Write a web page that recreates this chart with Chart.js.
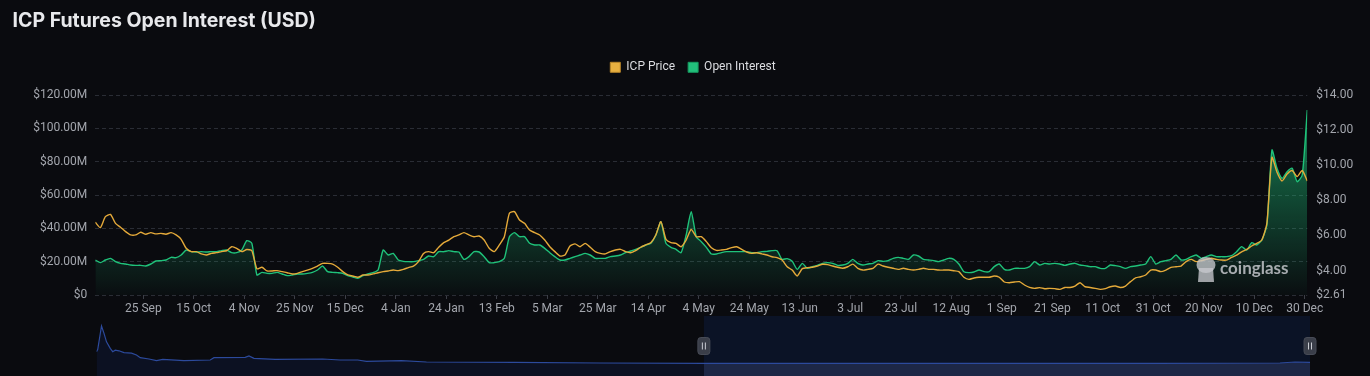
<!DOCTYPE html>
<html><head><meta charset="utf-8">
<script src="https://cdn.jsdelivr.net/npm/chart.js@4.4.1/dist/chart.umd.min.js"></script>
<style>
html,body{margin:0;padding:0;background:#0a0b0f;overflow:hidden;}
#wrap{position:relative;width:1370px;height:376px;background:#0a0b0f;}
#main{position:absolute;left:0;top:0;}
#nav{position:absolute;left:0;top:316px;}
</style></head><body>
<div id="wrap">
<canvas id="main" width="1370" height="316" style="width:1370px;height:316px"></canvas>
<canvas id="nav" width="1370" height="60" style="width:1370px;height:60px"></canvas>
</div>
<script>
// ---- data (one value every 2 days, day 0 = 6 Sep 2022) ----
const priceSeries = [
6.75,6.45,7.07,7.20,6.69,6.47,6.22,6.03,6.03,6.18,
6.07,6.16,6.09,6.12,6.07,6.16,6.03,5.78,5.27,5.08,
5.08,4.95,4.89,4.98,5.02,5.08,5.13,5.36,5.27,5.08,
5.20,5.13,4.10,4.19,3.98,3.98,4.00,3.94,3.88,3.81,
3.84,3.94,4.03,4.13,4.26,4.41,4.41,4.37,4.19,3.94,
3.75,3.69,3.62,3.75,3.75,3.81,3.88,3.94,3.98,4.03,
4.00,4.07,4.17,4.26,4.51,4.98,5.08,5.02,5.33,5.59,
5.74,5.93,6.03,6.16,6.03,5.93,5.97,5.74,5.27,5.08,
5.46,5.93,7.26,7.36,6.88,6.69,6.31,6.16,6.03,5.74,
5.36,5.08,4.83,4.89,5.40,5.52,5.36,5.55,5.33,5.08,
4.98,4.95,5.08,5.17,5.21,5.08,5.02,5.14,5.33,5.46,
5.59,6.03,6.79,5.78,5.59,5.55,5.36,5.74,6.35,5.93,
5.93,5.65,5.30,5.15,5.17,5.21,5.31,5.36,5.21,5.06,
4.98,5.02,4.95,4.89,4.79,4.74,4.60,4.22,4.03,3.69,
4.11,4.17,4.19,4.26,4.36,4.34,4.26,4.19,4.13,4.22,
4.37,4.13,4.03,4.07,4.13,4.37,4.26,4.19,4.13,4.07,
4.13,4.07,4.03,4.07,4.13,4.07,4.07,4.03,4.03,4.03,
3.99,3.94,3.62,3.50,3.58,3.62,3.62,3.62,3.69,3.62,
3.35,3.31,3.35,3.37,3.18,3.04,2.99,3.03,2.97,2.99,
2.97,2.93,3.04,3.04,3.12,3.31,3.08,3.04,2.99,2.93,
2.97,3.08,3.12,3.04,3.12,3.37,3.59,3.65,3.75,4.03,
4.03,3.94,4.03,4.18,4.22,4.26,4.51,4.64,4.51,4.56,
4.64,4.70,4.64,4.60,4.60,4.75,4.88,5.07,5.21,5.40,
5.55,5.74,6.70,10.45,9.60,9.10,9.50,9.70,9.35,9.70,
9.10
];
const openInterestM = [
21,19.4,21,22,20,19,18.6,18,17.8,17.8,
17.4,18.6,20.4,20.6,21,22.6,22.4,24,27,26,
25.8,26,25.8,26,26,26.6,27,25.4,25.4,27,
32.6,31,12,13.6,13,13,13.6,12.6,11.6,12,
12.6,12.6,13,13.6,15,17.4,14,13.6,13.4,13,
11.6,10.8,10,11.6,12.6,13.4,15,27,24,25,
21,20.2,20,20,20.6,21.4,23.4,23,26,26,
26.6,26,25.8,21.4,23,26,25.8,23,19.4,19.4,
20,22,35,37.4,35,35,31,30,30,28,
25.4,23,21,21,22,23,24,25,24,22,
22,22,23,23.4,24,25.4,26.4,27.4,28.6,30,
31,36,44,31,28.6,27.4,25.4,36,50,35,
32,28.6,24.6,24.6,25.4,26,26,26,26,26,
25.4,25.4,26,26.2,26.6,26.6,21.4,21.8,20.2,15.4,
19,16,17,17.8,19,19.4,19,17.8,18,19,
21.4,19,18,18.6,19,20.6,20.2,20.6,22,22.6,
22,21.4,24,23.4,21.4,21,20.6,20,21,22,
21.4,18.6,14,13.4,13.8,15,14,14,17,18.6,
15.4,15,16,16,16,17,20,18,19,18.6,
19,18.6,17.8,18.6,19,18,17.6,17,17,16,
16,18,17.6,17,16,17,17.4,18,18.6,23,
18.6,20,20.6,21.4,24,21,21.4,23,24,22,
23,24,23,23,23,23.6,26,29,27,31.4,
30,33,42,87,76,70,74,76,68,72,
111
];
const sampleDays = priceSeries.map((_, i) => i * 2);

const tickDays = [19,39,59,79,99,119,139,159,179,199,219,239,259,279,299,319,339,359,379,399,419,439,459,479];
const tickLabels = ['25 Sep','15 Oct','4 Nov','25 Nov','15 Dec','4 Jan','24 Jan','13 Feb','5 Mar','25 Mar','14 Apr','4 May','24 May','13 Jun','3 Jul','23 Jul','12 Aug','1 Sep','21 Sep','11 Oct','31 Oct','20 Nov','10 Dec','30 Dec'];
const oiTicks = [0,20,40,60,80,100,120];
const priceTicks = [2.61,4,6,8,10,12,14];

// navigator (full history overview)
const navDays = [0,1,4,6,8,11,13,15,18,22,28,32,35,42,48,53,70,91,94,119,122,126,143,181,195,209,216,244,264,334,403,486,600,722,850,947,959,971];
const navValues = [40.5,44.5,83.3,71,57,46,40.5,43,42,39,38,35,30.5,28.3,25.5,27.8,25.5,26.7,30.5,31,33.3,29.5,27.8,28.3,26.7,26.7,24.5,25.5,23.3,22.8,21.7,21.2,21.2,21.2,21.2,21.7,23.3,22.8];
const navSelection = [486, 971];

// ---- styles ----
const AXIS_COLOR = '#a3a6ad';
const GRID_COLOR = '#2a2d35';
const PRICE_COLOR = '#E5AA3A';
const OI_COLOR = '#1FC27A';
const legendFill = ['#E8B040', '#22C07B'];
const legendStroke = ['#B8862A', '#169A60'];

Chart.defaults.font.family = 'Roboto, "Liberation Sans", sans-serif';

const layoutTweaks = {
  id: 'layoutTweaks',
  beforeLayout(chart) {
    const lg = chart.legend;
    if (lg && !lg._patched) {
      const fit = lg.fit;
      lg.fit = function () { fit.call(this); this.height += 11.7; };
      lg._patched = true;
    }
  },
  afterLayout(chart) {
    if (chart.legend) chart.legend.left += 16;
    if (chart.titleBlock) chart.titleBlock.left += 12.5;
  }
};

const watermark = {
  id: 'watermark',
  afterDatasetsDraw(chart) {
    const c = chart.ctx;
    c.save();
    c.fillStyle = 'rgba(200,201,206,0.78)';
    c.beginPath();
    c.ellipse(1206, 265, 9.5, 8, 0, 0, Math.PI * 2);
    c.fill();
    c.beginPath();
    c.moveTo(1199, 268); c.lineTo(1213, 268); c.lineTo(1214, 282); c.lineTo(1198, 282); c.closePath();
    c.fill();
    c.font = '700 17px Lato, Inter, sans-serif';
    c.textBaseline = 'middle';
    c.textAlign = 'left';
    c.fillStyle = 'rgba(195,197,202,0.85)';
    c.fillText('coinglass', 1220, 268.5);
    c.restore();
  }
};

function oiGradient(ctx) {
  const chart = ctx.chart;
  const area = chart.chartArea;
  if (!area) return 'rgba(31,194,122,0.3)';
  const g = chart.ctx.createLinearGradient(0, area.top, 0, area.bottom);
  g.addColorStop(0, 'rgba(31,194,122,0.85)');
  g.addColorStop(0.45, 'rgba(31,194,122,0.38)');
  g.addColorStop(1, 'rgba(31,194,122,0.02)');
  return g;
}

new Chart(document.getElementById('main'), {
  type: 'line',
  data: {
    datasets: [
      {
        label: 'ICP Price',
        data: sampleDays.map((d, i) => ({ x: d, y: priceSeries[i] })),
        yAxisID: 'yPrice',
        borderColor: PRICE_COLOR,
        backgroundColor: PRICE_COLOR,
        borderWidth: 1.4,
        pointRadius: 0,
        tension: 0.2,
        fill: false
      },
      {
        label: 'Open Interest',
        data: sampleDays.map((d, i) => ({ x: d, y: openInterestM[i] })),
        yAxisID: 'yOI',
        borderColor: OI_COLOR,
        backgroundColor: oiGradient,
        borderWidth: 1.4,
        pointRadius: 0,
        tension: 0.2,
        fill: 'origin'
      }
    ]
  },
  options: {
    responsive: false,
    animation: false,
    devicePixelRatio: 1,
    layout: { padding: 0 },
    plugins: {
      title: {
        display: true,
        text: 'ICP Futures Open Interest (USD)',
        align: 'start',
        color: '#e8e9ec',
        font: { family: 'Inter', weight: '700', size: 19.5 },
        padding: { top: 9.5, bottom: 15.4 }
      },
      legend: {
        display: true,
        labels: {
          color: '#dcdde1',
          font: { size: 12 },
          boxWidth: 10,
          boxHeight: 10,
          padding: 13,
          generateLabels(chart) {
            const items = Chart.defaults.plugins.legend.labels.generateLabels(chart);
            items.forEach((it, i) => { it.fillStyle = legendFill[i]; it.strokeStyle = legendStroke[i]; it.lineWidth = 1; });
            return items;
          }
        }
      },
      tooltip: { enabled: false }
    },
    scales: {
      x: {
        type: 'linear',
        min: 0,
        max: 480,
        afterBuildTicks(s) { s.ticks = tickDays.map(v => ({ value: v })); },
        afterFit(s) { s.height = 21; },
        ticks: {
          autoSkip: false,
          maxRotation: 0,
          color: AXIS_COLOR,
          font: { size: 12 },
          padding: 3,
          callback: (v, i) => tickLabels[i]
        },
        grid: { drawOnChartArea: false, drawTicks: true, tickLength: 4, color: '#3c3f47' },
        border: { display: false }
      },
      yOI: {
        position: 'left',
        min: 0,
        max: 120,
        afterBuildTicks(s) { s.ticks = oiTicks.map(v => ({ value: v })); },
        afterFit(s) { s.width = 95.3; },
        ticks: {
          color: AXIS_COLOR,
          font: { size: 12 },
          padding: 8,
          callback: v => v === 0 ? '$0' : '$' + v.toFixed(2) + 'M'
        },
        grid: { color: GRID_COLOR, drawTicks: false, lineWidth: 1 },
        border: { display: false, dash: [4, 3] }
      },
      yPrice: {
        position: 'right',
        min: 2.61,
        max: 14,
        afterBuildTicks(s) { s.ticks = priceTicks.map(v => ({ value: v })); },
        afterFit(s) { s.width = 62.7; },
        ticks: {
          color: AXIS_COLOR,
          font: { size: 12 },
          padding: 9,
          callback: v => '$' + v.toFixed(2)
        },
        grid: { drawOnChartArea: false, drawTicks: false },
        border: { display: false }
      }
    }
  },
  plugins: [layoutTweaks, watermark]
});

// ---- navigator ----
function navFill(ctx) {
  const chart = ctx.chart;
  const area = chart.chartArea;
  if (!area) return '#0c1121';
  const x = chart.scales.x.getPixelForValue(navSelection[0]);
  const t = Math.min(Math.max((x - area.left) / (area.right - area.left), 0), 1);
  const g = chart.ctx.createLinearGradient(area.left, 0, area.right, 0);
  g.addColorStop(0, '#0c1122');
  g.addColorStop(t, '#0c1122');
  g.addColorStop(Math.min(t + 0.0005, 1), '#1d2746');
  g.addColorStop(1, '#1d2746');
  return g;
}

const navOverlay = {
  id: 'navOverlay',
  beforeDatasetsDraw(chart) {
    const c = chart.ctx;
    const x0 = chart.scales.x.getPixelForValue(navSelection[0]);
    const x1 = chart.scales.x.getPixelForValue(navSelection[1]);
    c.save();
    c.fillStyle = '#0b1326';
    c.fillRect(x0, 0, x1 - x0, chart.height);
    c.restore();
  },
  afterDatasetsDraw(chart) {
    const c = chart.ctx;
    const cy = 30;
    navSelection.forEach(v => {
      const x = chart.scales.x.getPixelForValue(v);
      c.save();
      c.fillStyle = '#3a3e49';
      c.strokeStyle = '#474b56';
      c.lineWidth = 1;
      c.beginPath();
      c.roundRect(x - 6, cy - 8.5, 12, 17, 3);
      c.fill();
      c.stroke();
      c.strokeStyle = '#c8cbd2';
      c.beginPath();
      c.moveTo(x - 1.5, cy - 3.5); c.lineTo(x - 1.5, cy + 3.5);
      c.moveTo(x + 1.5, cy - 3.5); c.lineTo(x + 1.5, cy + 3.5);
      c.stroke();
      c.restore();
    });
  }
};

new Chart(document.getElementById('nav'), {
  type: 'line',
  data: {
    datasets: [{
      data: navDays.map((d, i) => ({ x: d, y: navValues[i] })),
      borderColor: '#2c4a9c',
      borderWidth: 1.2,
      pointRadius: 0,
      tension: 0,
      fill: 'origin',
      backgroundColor: navFill
    }]
  },
  options: {
    responsive: false,
    animation: false,
    devicePixelRatio: 1,
    layout: { padding: { left: 96.5, right: 60, top: 0, bottom: 0 } },
    plugins: { legend: { display: false }, title: { display: false }, tooltip: { enabled: false } },
    scales: {
      x: { type: 'linear', display: false, min: 0, max: 971 },
      y: { display: false, min: 0, max: 100 }
    }
  },
  plugins: [navOverlay]
});
</script>
</body></html>
